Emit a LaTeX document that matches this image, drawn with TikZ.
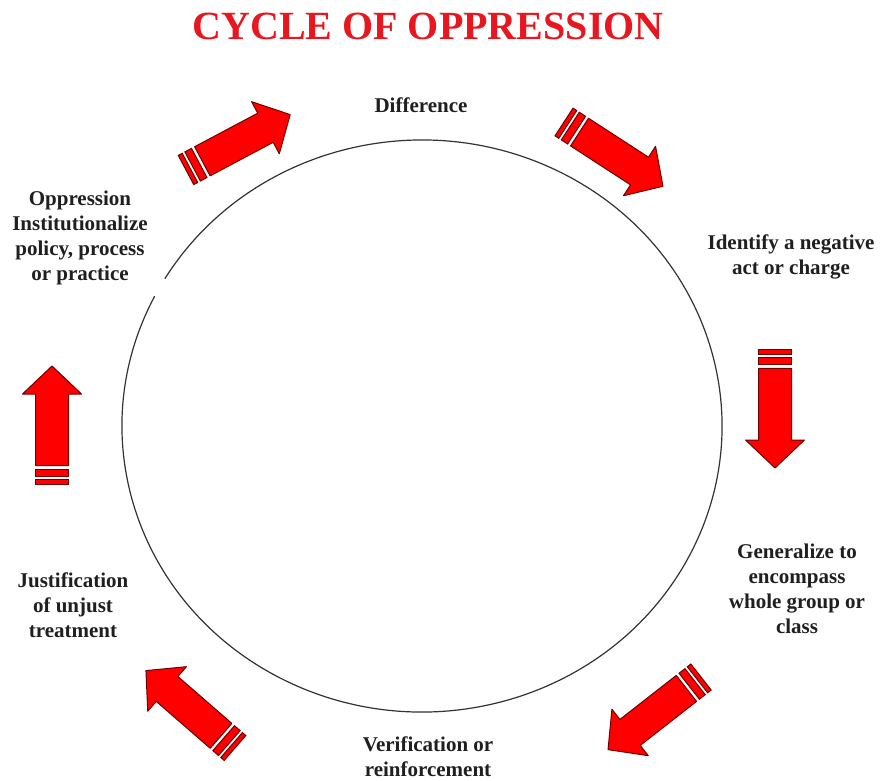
\documentclass[tikz,border=0pt]{standalone}
\usepackage{fontspec}
\setmainfont{Liberation Serif}
\usepackage{tikz}
\usetikzlibrary{positioning}
\definecolor{arrowred}{RGB}{255,0,0}
\definecolor{arrowedge}{RGB}{110,0,0}
\definecolor{titlered}{RGB}{232,22,30}

\begin{document}
\begin{tikzpicture}[x=1pt,y=1pt,
    steptext/.style={font=\fontsize{21}{25}\selectfont\bfseries, align=center, text=black!88},
    stripedarrow/.pic={
      \path[fill=arrowred, draw=arrowedge, line width=1pt, line join=round]
        (18.5,-16.5) -- (90,-16.5) -- (90,-29.5) -- (118,0) -- (90,29.5)
        -- (90,16.5) -- (18.5,16.5) -- cycle;
      \path[fill=arrowred, draw=arrowedge, line width=1pt] (7.5,-16.5) rectangle (15,16.5);
      \path[fill=arrowred, draw=arrowedge, line width=1pt] (0,-16.5) rectangle (4.5,16.5);
    }]
  \useasboundingbox (0,0) rectangle (880,780);

  %% Title
  \node[font=\fontsize{40}{44}\selectfont\bfseries, text=titlered] (title) at (428,754)
    {CYCLE OF OPPRESSION};

  %% The cycle (small break at upper left)
  \draw[black!80, line width=1.2pt] (422,354) ++(153:300 and 286)
    arc[start angle=153, end angle=509, x radius=300, y radius=286];

  %% Arrows -- tail x / tail y / direction
  \foreach \x/\y/\a in {186/610/28, 564/658/-33, 775/430/-90,
                        701/103/218, 235/32/139, 52/296/90}{
    \pic[rotate=\a] at (\x,\y) {stripedarrow};
  }

  %% Stages
  \node[steptext] (difference) at (421,675) {Difference};
  \node[steptext] (identify) at (791,523) {Identify a negative\\act or charge};
  \node[steptext] (generalize) at (797,191) {Generalize to\\encompass\\whole group or\\class};
  \node[steptext] (verification) at (428,23) {Verification or\\reinforcement};
  \node[steptext] (justification) at (73,175) {Justification\\of unjust\\treatment};
  \node[steptext] (oppression) at (80,542) {Oppression\\Institutionalize\\policy, process\\or practice};

\end{tikzpicture}
\end{document}
